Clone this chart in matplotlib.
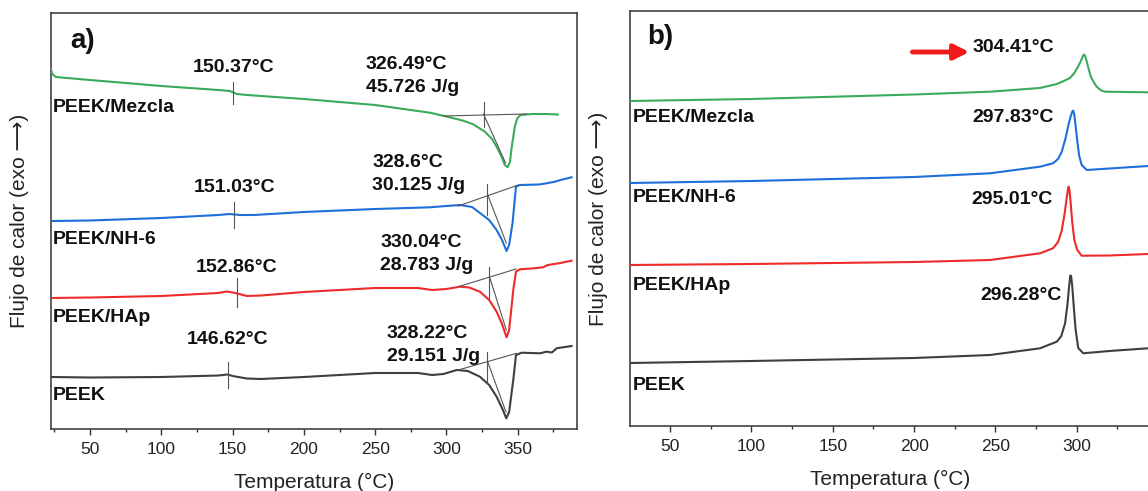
import matplotlib
matplotlib.use("Agg")
import matplotlib.pyplot as plt
from matplotlib.ticker import MultipleLocator

plt.rcParams['font.family'] = ['Liberation Sans', 'DejaVu Sans']

# ---------------- data: panel a) heating (endothermic down) ----------------
T_mez_a = [22.6, 23.5, 26, 50, 100, 140, 148, 153, 160, 200, 250, 288.4, 300, 311.8, 318.8,
           327, 332, 335.2, 338.7, 341, 342.9, 344.6, 345.7, 348, 349.7, 352, 360, 370, 378.2]
y_mez_a = [360, 355, 352, 349, 343, 339, 338, 335, 334, 330, 324, 316.3, 312.5, 308.3, 304.7,
           297.3, 290, 282.3, 272.3, 264, 261.7, 267.3, 281, 302.3, 310.7, 314, 315, 315, 314.5]

T_nh6_a = [22.6, 50, 100, 140, 148, 155, 165, 200, 250, 288.4, 300, 309.5, 318, 323.5, 330,
           335.2, 339, 342.2, 344, 346.4, 348.8, 351.6, 365, 370.3, 376.1, 380, 387.8]
y_nh6_a = [208, 208.5, 211, 214, 215, 214, 214, 217, 220, 221.7, 223, 224, 222, 216, 209,
           199, 189, 178, 184, 206, 242.3, 244, 244.5, 245.7, 247.3, 249, 251.7]

T_hap_a = [22.6, 50, 100, 140, 146, 152, 160, 170, 200, 250, 280, 290, 300, 309.5, 316, 323.5,
           330, 335.2, 339, 342.2, 344, 346.9, 348.8, 351.6, 360, 367.7, 371.2, 380, 387.8]
y_hap_a = [131, 131.5, 133, 136, 137.5, 136, 133, 133.5, 137, 141, 141, 139, 140, 142.3, 141.5, 137.3,
           129, 117.3, 105, 91.7, 99, 139, 157.3, 159.7, 160.5, 161.7, 164, 166, 168.3]

T_peek_a = [22.6, 50, 100, 140, 146.6, 150, 160, 170, 200, 250, 280, 290, 298, 307.2, 315, 323.5,
            330, 335.2, 339, 342, 344, 346.9, 348.8, 352.8, 365.6, 370.3, 374, 377.3, 387.8]
y_peek_a = [52, 51.5, 52, 53.5, 54.5, 53, 50.5, 50, 52, 56, 56, 54, 55, 59, 58, 52.3,
            44, 32.3, 21, 10.7, 17, 49, 74, 76.3, 75.7, 77.3, 76.5, 80.7, 83]

# Tg markers (temperature, y_low, y_high) and melting onset constructions
tg_T = [150.37, 151.03, 152.86, 146.62]
tg_lo = [325, 201, 122, 41]
tg_hi = [347, 227, 151, 67]
on_T = [326.49, 328.6, 330.04, 328.22]
on_lo = [301.7, 214, 130.7, 45.7]
on_hi = [327.3, 245, 162.3, 76.7]
base_T0 = [297.8, 308.3, 308.3, 308.3]
base_y0 = [313, 223, 142.3, 59]
base_T1 = [356.3, 350.4, 348.8, 349.2]
base_y1 = [315, 244, 160, 75.7]
tan_T0 = [326.0, 329.0, 330.5, 329.0]
tan_y0 = [315, 234, 151, 67]
tan_T1 = [341.5, 342.0, 342.0, 341.8]
tan_y1 = [266, 186, 99, 17]

# ---------------- data: panel b) cooling (exothermic up) ----------------
T_mez_b = [25.4, 100, 200, 246.7, 277.4, 287.7, 292, 295.8, 298.5, 301, 302.5, 303.8, 304.4, 305.2,
           306.2, 307.3, 308.5, 310, 312.2, 315, 317.4, 330, 343.8]
y_mez_b = [325, 327, 331.5, 334.3, 338, 342, 345, 348, 353, 360, 365, 370, 371.5, 370,
           364, 357, 350, 345, 339.3, 335.5, 334.3, 334, 333.7]

T_nh6_b = [25.4, 100, 200, 246.7, 277.4, 285.4, 288.5, 290.7, 293, 295, 296.5, 297.4, 297.8, 298.4,
           299.3, 300.3, 301.5, 303.0, 306.1, 320, 343.8]
y_nh6_b = [243, 245, 249, 252.7, 259.3, 262.7, 267, 274, 287, 302, 311, 315, 315.3, 312,
           300, 285, 270, 261, 256, 257.5, 260]

T_hap_b = [25.4, 100, 200, 246.7, 277.4, 285.4, 288.5, 290.7, 292.5, 293.8, 294.6, 295.0, 295.5,
           296.3, 297.2, 298.5, 300.3, 303.0, 320, 343.8]
y_hap_b = [161, 162, 164, 166, 172.7, 177.7, 184, 195, 212, 228, 237, 239.3, 236,
           222, 204, 186, 176, 170.3, 170.5, 172]

T_peek_b = [25.4, 100, 200, 246.7, 277.4, 287.7, 290.5, 292.8, 294.3, 295.3, 296.0, 296.5, 297.2,
            298.2, 299.3, 300.9, 304.0, 320, 343.8]
y_peek_b = [63, 65, 68, 71, 77.7, 84.3, 90, 102.7, 122, 140, 150.5, 150, 140,
            118, 96, 78, 72.7, 75, 77.7]

labels = ['PEEK/Mezcla', 'PEEK/NH-6', 'PEEK/HAp', 'PEEK']
colors = ['#3aab5a', '#1f6fdb', '#ee2a2a', '#3f3f3f']
tg_text = ['150.37°C', '151.03°C', '152.86°C', '146.62°C']
tm_text = ['326.49°C\n45.726 J/g', '328.6°C\n30.125 J/g', '330.04°C\n28.783 J/g', '328.22°C\n29.151 J/g']
tc_text = ['304.41°C', '297.83°C', '295.01°C', '296.28°C']
xticks = [50, 100, 150, 200, 250, 300, 350]

W, H = 1148, 491
fig = plt.figure(figsize=(W / 100, H / 100), dpi=100)

def px_box(x0, y0, x1, y1):
    return [x0 / W, 1 - y1 / H, (x1 - x0) / W, (y1 - y0) / H]

axa = fig.add_axes(px_box(51, 13, 576.7, 429))
axb = fig.add_axes(px_box(630, 11, 1150, 426))

spine_c = '#333333'
for ax in (axa, axb):
    for s in ax.spines.values():
        s.set_color(spine_c)
        s.set_linewidth(1.1)
    ax.set_yticks([])
    ax.set_xticks(xticks)
    ax.xaxis.set_minor_locator(MultipleLocator(25))
    ax.tick_params(axis='x', which='major', direction='out', length=4.5, width=1.0,
                   color=spine_c, labelsize=12.5, labelcolor='#222222', pad=5)
    ax.tick_params(axis='x', which='minor', direction='out', length=2.5, width=1.0, color=spine_c)
    ax.set_xlabel('Temperatura (°C)', fontsize=15, color='#222222', labelpad=11)
    ax.set_ylabel('Flujo de calor (exo ⟶)', fontsize=15, color='#222222', labelpad=16)

axa.set_xlim(22.6, 391.4)
axa.set_ylim(0, 416)
axb.set_xlim(25.4, 345.0)
axb.set_ylim(0, 415)

# panel a curves
curves_a = [(T_mez_a, y_mez_a), (T_nh6_a, y_nh6_a), (T_hap_a, y_hap_a), (T_peek_a, y_peek_a)]
for i, (T, y) in enumerate(curves_a):
    axa.plot(T, y, color=colors[i], lw=1.5, zorder=3)
    lc = '#555555'
    axa.plot([tg_T[i], tg_T[i]], [tg_lo[i], tg_hi[i]], color=lc, lw=0.8, zorder=4)
    axa.plot([on_T[i], on_T[i]], [on_lo[i], on_hi[i]], color=lc, lw=0.8, zorder=4)
    axa.plot([base_T0[i], base_T1[i]], [base_y0[i], base_y1[i]], color=lc, lw=0.8, zorder=4)
    axa.plot([tan_T0[i], tan_T1[i]], [tan_y0[i], tan_y1[i]], color=lc, lw=0.8, zorder=4)

bold = dict(fontsize=14, fontweight='bold', color='#111111')
lab_y_a = [321, 189, 111, 34]
for i in range(4):
    axa.text(23.5, lab_y_a[i], labels[i], ha='left', va='center', **bold)
tg_lab_y = [362, 242, 161, 89]
for i in range(4):
    axa.text(tg_T[i], tg_lab_y[i], tg_text[i], ha='center', va='center', **bold)
tm_x = [243.5, 248, 253.5, 258]
tm_y = [353, 255, 175, 84]
for i in range(4):
    axa.text(tm_x[i], tm_y[i], tm_text[i], ha='left', va='center', linespacing=1.45, **bold)
axa.text(36, 388, 'a)', fontsize=20, fontweight='bold', ha='left', va='center', color='#111111')

# panel b curves
curves_b = [(T_mez_b, y_mez_b), (T_nh6_b, y_nh6_b), (T_hap_b, y_hap_b), (T_peek_b, y_peek_b)]
for i, (T, y) in enumerate(curves_b):
    axb.plot(T, y, color=colors[i], lw=1.5, zorder=3)

lab_y_b = [308, 229, 141, 41]
for i in range(4):
    axb.text(27, lab_y_b[i], labels[i], ha='left', va='center', **bold)
tc_x = [286, 286, 285, 291]
tc_y = [379, 308, 226, 130]
for i in range(4):
    axb.text(tc_x[i], tc_y[i], tc_text[i], ha='right', va='center', **bold)
axb.annotate('', xy=(234, 374), xytext=(199, 374),
             arrowprops=dict(arrowstyle='-|>,head_length=0.9,head_width=0.45', color='#ee1c1c',
                             lw=3.5, shrinkA=0, shrinkB=0))
axb.text(36, 389, 'b)', fontsize=20, fontweight='bold', ha='left', va='center', color='#111111')

fig.savefig('out.png', dpi=100)
